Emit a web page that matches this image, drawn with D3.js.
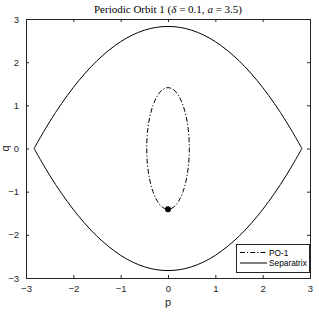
<!DOCTYPE html>
<html><head><meta charset="utf-8">
<script src="https://cdn.jsdelivr.net/npm/d3@7"></script>
<style>body{margin:0;background:#fff}svg{display:block}</style>
</head><body>
<script>
const xTicks = [-3,-2,-1,0,1,2,3];
const yTicks = [-3,-2,-1,0,1,2,3];
// Separatrix (upper and lower branches)
const sepP = [-2.828,-2.75,-2.5,-2.25,-2.0,-1.75,-1.5,-1.25,-1.0,-0.75,-0.5,-0.25,0,0.25,0.5,0.75,1.0,1.25,1.5,1.75,2.0,2.25,2.5,2.75,2.828];
const sepQUpper = [0,0.155,0.619,1.039,1.414,1.746,2.033,2.276,2.475,2.630,2.740,2.806,2.828,2.806,2.740,2.630,2.475,2.276,2.033,1.746,1.414,1.039,0.619,0.155,0];
const sepQLower = [0,-0.155,-0.619,-1.039,-1.414,-1.746,-2.033,-2.276,-2.475,-2.630,-2.740,-2.806,-2.828,-2.806,-2.740,-2.630,-2.475,-2.276,-2.033,-1.746,-1.414,-1.039,-0.619,-0.155,0];
// Periodic orbit PO-1
const poP = [0,0.116,0.225,0.318,0.390,0.435,0.45,0.435,0.390,0.318,0.225,0.116,0,-0.116,-0.225,-0.318,-0.390,-0.435,-0.45,-0.435,-0.390,-0.318,-0.225,-0.116];
const poQ = [1.41,1.362,1.221,0.997,0.705,0.365,0,-0.365,-0.705,-0.997,-1.221,-1.362,-1.41,-1.362,-1.221,-0.997,-0.705,-0.365,0,0.365,0.705,0.997,1.221,1.362];
const startPoint = [0,-1.41];
const seriesNames = ["PO-1","Separatrix"];
// title pieces: [text, italic]
const titleParts = [["Periodic Orbit 1 (",false],["\u03B4",true],[" = 0.1, ",false],["a",true],[" = 3.5)",false]];

const W=319,H=318;
const L=26,R=310,T=19,B=278;
const svg=d3.select("body").append("svg").attr("width",W).attr("height",H);
const x=d3.scaleLinear().domain([-3,3]).range([L,R]);
const y=d3.scaleLinear().domain([-3,3]).range([B,T]);
const axC="#262626";
const font="'Liberation Sans', Arial, sans-serif";

// box
svg.append("rect").attr("x",L).attr("y",T).attr("width",R-L).attr("height",B-T)
  .attr("fill","#fff").attr("stroke",axC).attr("stroke-width",1).attr("shape-rendering","crispEdges");

const tl=3;
const axB=svg.append("g").attr("transform",`translate(0,${B})`)
  .call(d3.axisBottom(x).tickValues(xTicks).tickSize(-tl).tickPadding(7).tickFormat(d3.format("d")));
const axT=svg.append("g").attr("transform",`translate(0,${T})`)
  .call(d3.axisTop(x).tickValues(xTicks).tickSize(-tl).tickFormat(""));
const axL=svg.append("g").attr("transform",`translate(${L},0)`)
  .call(d3.axisLeft(y).tickValues(yTicks).tickSize(-tl).tickPadding(7).tickFormat(d3.format("d")));
const axR=svg.append("g").attr("transform",`translate(${R},0)`)
  .call(d3.axisRight(y).tickValues(yTicks).tickSize(-tl).tickFormat(""));
[axB,axT,axL,axR].forEach(a=>{
  a.select(".domain").attr("stroke",axC);
  a.selectAll(".tick line").attr("stroke",axC);
  a.selectAll("text").attr("fill",axC).style("font-family",font).style("font-size","9.5px");
});
[axB,axT,axL,axR].forEach(a=>a.selectAll(".tick line").filter(d=>d===-3||d===3).remove());

// clip
svg.append("clipPath").attr("id","clip").append("rect").attr("x",L).attr("y",T).attr("width",R-L).attr("height",B-T);
const g=svg.append("g").attr("clip-path","url(#clip)");

const line=d3.line().x(d=>x(d[0])).y(d=>y(d[1])).curve(d3.curveCatmullRom);
const up=sepP.map((p,i)=>[p,sepQUpper[i]]);
const lo=sepP.map((p,i)=>[p,sepQLower[i]]);
g.append("path").attr("d",line(up)).attr("fill","none").attr("stroke","#000").attr("stroke-width",1);
g.append("path").attr("d",line(lo)).attr("fill","none").attr("stroke","#000").attr("stroke-width",1);

const cl=d3.line().x(d=>x(d[0])).y(d=>y(d[1])).curve(d3.curveCatmullRomClosed);
const po=poP.map((p,i)=>[p,poQ[i]]);
g.append("path").attr("d",cl(po)).attr("fill","none").attr("stroke","#000").attr("stroke-width",1)
  .attr("stroke-dasharray","5,2,1.2,2");
g.append("circle").attr("cx",x(startPoint[0])).attr("cy",y(startPoint[1])).attr("r",3).attr("fill","#000");

// title
const tt=svg.append("text").attr("x",(L+R)/2).attr("y",13).attr("text-anchor","middle")
  .style("font-family","'Liberation Serif','Times New Roman',serif").style("font-size","11px").attr("fill","#000");
titleParts.forEach(([s,it])=>tt.append("tspan").style("font-style",it?"italic":"normal").text(s));
// axis labels
svg.append("text").attr("x",(L+R)/2).attr("y",306).attr("text-anchor","middle")
  .style("font-family",font).style("font-size","11px").attr("fill",axC).text("p");
svg.append("text").attr("transform",`translate(9,${(T+B)/2}) rotate(-90)`).attr("text-anchor","middle")
  .style("font-family",font).style("font-size","11px").attr("fill",axC).text("q");

// legend
const lg=svg.append("g");
lg.append("rect").attr("x",236).attr("y",244).attr("width",73).attr("height",28)
  .attr("fill","#fff").attr("stroke",axC).attr("stroke-width",1).attr("shape-rendering","crispEdges");
const rows=[{name:seriesNames[0],dash:"5,2,1.2,2",yy:252.5},{name:seriesNames[1],dash:null,yy:263}];
rows.forEach(r=>{
  lg.append("line").attr("x1",240).attr("x2",267).attr("y1",r.yy).attr("y2",r.yy)
    .attr("stroke","#000").attr("stroke-width",1).attr("stroke-dasharray",r.dash);
  lg.append("text").attr("x",269).attr("y",r.yy+3).style("font-family",font).style("font-size","8.3px")
    .attr("fill","#000").text(r.name);
});
</script>
</body></html>
